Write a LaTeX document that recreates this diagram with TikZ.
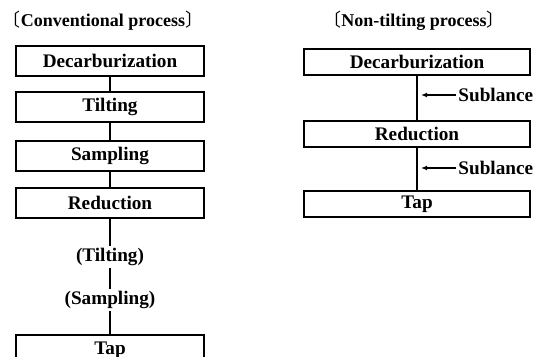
\documentclass[tikz,border=0pt]{standalone}
\usepackage{fontspec}
\setmainfont{Liberation Serif}
\newfontfamily\cjk{Noto Sans CJK JP}
\usetikzlibrary{arrows.meta}

\begin{document}
\begin{tikzpicture}[x=0.5pt,y=-0.5pt,
    every node/.style={font=\fontsize{9.6}{11}\selectfont\bfseries},
    heading/.style={font=\fontsize{9}{11}\selectfont\bfseries,inner sep=0pt},
    stepbox/.style={draw,line width=1pt,minimum width=94pt,minimum height=15pt,inner sep=0pt},
    stepboxr/.style={stepbox,minimum width=113pt,minimum height=13pt},
    aside/.style={inner sep=1pt},
    link/.style={line width=0.6pt},
    lance/.style={line width=0.6pt,-{Latex[length=3pt,width=2.4pt]},shorten >=2pt}]
    \useasboundingbox (0,0) rectangle (534,357);
    %
    \node[heading] (headl) at (103,21) {{\cjk\mdseries 〔}Conventional process{\cjk\mdseries 〕}};
    \node[heading] (headr) at (414,21) {{\cjk\mdseries 〔}Non-tilting process{\cjk\mdseries 〕}};
    %
    \node[stepbox] (dec1) at (110,61) {Decarburization};
    \node[stepbox] (tilt1) at (110,107) {Tilting};
    \node[stepbox] (samp1) at (110,156) {Sampling};
    \node[stepbox] (red1) at (110,203) {Reduction};
    \node[aside] (ptilt) at (110,257) {(Tilting)};
    \node[aside] (psamp) at (110,300) {(Sampling)};
    \node[stepbox] (tap1) at (110,350) {Tap};
    %
    \node[stepboxr] (dec2) at (417,62) {Decarburization};
    \node[stepboxr] (red2) at (417,134) {Reduction};
    \node[stepboxr] (tap2) at (417,204) {Tap};
    \node[aside,anchor=west] (sub1) at (456,95) {Sublance};
    \node[aside,anchor=west] (sub2) at (456,168) {Sublance};
    %
    \draw[link] (dec1) -- (tilt1) (tilt1) -- (samp1) (samp1) -- (red1);
    \draw[link] (red1) -- (ptilt) (ptilt) -- (psamp) (psamp) -- (tap1);
    \draw[link] (dec2) -- (red2) (red2) -- (tap2);
    %
    \draw[lance] (sub1.west) -- (sub1.west -| dec2.south);
    \draw[lance] (sub2.west) -- (sub2.west -| red2.south);
\end{tikzpicture}
\end{document}
